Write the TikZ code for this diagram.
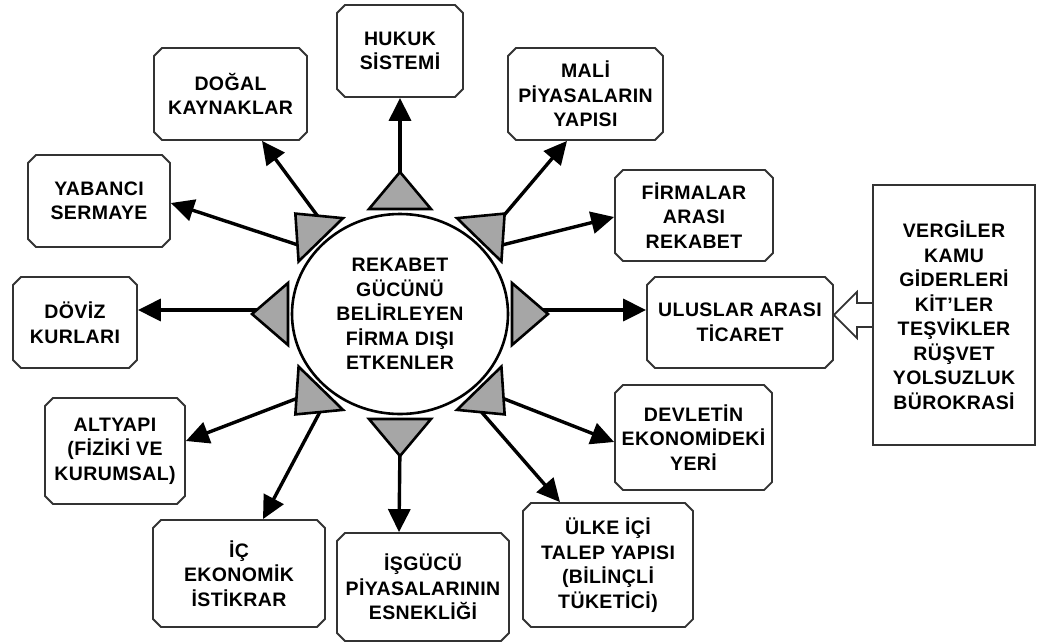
\documentclass[tikz,border=0pt]{standalone}
\usepackage{fontspec}
\setmainfont{Liberation Sans}[LetterSpace=2]
\usetikzlibrary{shapes.misc,shapes.geometric,arrows.meta,calc}
\newcommand\boxfont{\fontsize{19.5}{24.5}\selectfont\bfseries}
\begin{document}
\begin{tikzpicture}[x=1pt,y=-1pt,
  box/.style={chamfered rectangle, chamfered rectangle xsep=4pt, chamfered rectangle ysep=4pt,
    draw=black!80, line width=1.8pt, fill=white, inner sep=1pt, align=center, font=\boxfont},
  plainbox/.style={rectangle, draw=black!80, line width=2.2pt, fill=white, inner sep=1pt, align=center, font=\boxfont},
  core/.style={ellipse, draw=black, line width=2.6pt, fill=white, inner sep=0pt, align=center, font=\boxfont},
  arr/.style={line width=3.4pt, -{Triangle[length=23pt,width=22pt]}},
  tri/.style={draw=black, line width=2.6pt, fill=black!35, line join=miter},
  hollow/.style={draw=black!80, line width=1.8pt, fill=white, line join=miter}]
\useasboundingbox (0,0) rectangle (1048,643);
\fill[white] (0,0) rectangle (1048,643);

% boxes
\node[box, minimum width=126pt, minimum height=92pt] (hukuk) at (400,51) {HUKUK\\SİSTEMİ};
\node[box, minimum width=153pt, minimum height=92pt] (dogal) at (230.5,94) {DOĞAL\\KAYNAKLAR};
\node[box, minimum width=155pt, minimum height=92pt] (mali) at (585.5,94) {MALİ\\PİYASALARIN\\YAPISI};
\node[box, minimum width=142pt, minimum height=92pt] (yabanci) at (99,201) {YABANCI\\SERMAYE};
\node[box, minimum width=158pt, minimum height=91pt] (firmalar) at (694,215.5) {FİRMALAR\\ARASI\\REKABET};
\node[box, minimum width=124pt, minimum height=91pt] (doviz) at (75,322.5) {DÖVİZ\\KURLARI};
\node[box, minimum width=186pt, minimum height=91pt] (uluslar) at (740,322.5) {ULUSLAR ARASI\\TİCARET};
\node[box, minimum width=140pt, minimum height=106pt] (altyapi) at (115,451) {ALTYAPI\\(FİZİKİ VE\\KURUMSAL)};
\node[box, minimum width=157pt, minimum height=105pt] (devlet) at (693.5,437.5) {DEVLETİN\\EKONOMİDEKİ\\YERİ};
\node[box, minimum width=172pt, minimum height=107pt] (ic) at (239,573.5) {İÇ\\EKONOMİK\\İSTİKRAR};
\node[box, minimum width=172pt, minimum height=108pt] (isgucu) at (423,587) {İŞGÜCÜ\\PİYASALARININ\\ESNEKLİĞİ};
\node[box, minimum width=170pt, minimum height=124pt] (ulke) at (608,565) {ÜLKE İÇİ\\TALEP YAPISI\\(BİLİNÇLİ\\TÜKETİCİ)};
\node[plainbox, minimum width=162pt, minimum height=260pt] (big) at (954,315)
  {VERGİLER\\KAMU\\GİDERLERİ\\KİT’LER\\TEŞVİKLER\\RÜŞVET\\YOLSUZLUK\\BÜROKRASİ};

% hollow arrow from the right box
\draw[hollow] ($(big.west)+(0,-12)$) -- ++(-15,0) -- ++(0,-11) -- (uluslar.east |- big.west)
  -- ($(big.west)+(-15,23)$) -- ++(0,-11) -- ($(big.west)+(0,12)$);

% centre
\node[core, minimum width=216pt, minimum height=200pt] (center) at (400,314)
  {REKABET\\GÜCÜNÜ\\BELİRLEYEN\\FİRMA DIŞI\\ETKENLER};

% start points of the connectors (inside the triangles)
\coordinate (sHuk) at (400,185);
\coordinate (sDog) at (322,222);
\coordinate (sYab) at (298,245);
\coordinate (sMal) at (500,220);
\coordinate (sFir) at (502,245);
\coordinate (sDov) at (262,310);
\coordinate (sUlu) at (538,310);
\coordinate (sAlt) at (298,398);
\coordinate (sIc) at (322,408);
\coordinate (sIsg) at (400,443);
\coordinate (sDev) at (502,398);
\coordinate (sUlk) at (478,408);

% connectors
\draw[arr] (sHuk) -- (hukuk.south);
\draw[arr] (sDog) -- ($(dogal.south)+(31.5,0)$);
\draw[arr] (sYab) -- ($(yabanci.east)+(0,2)$);
\draw[arr] (sMal) -- ($(mali.south)+(-18.5,0)$);
\draw[arr] (sFir) -- ($(firmalar.west)+(0,1.5)$);
\draw[arr] (sDov) -- ($(doviz.east)+(0,-12.5)$);
\draw[arr] (sUlu) -- ($(uluslar.west)+(0,-12.5)$);
\draw[arr] (sAlt) -- ($(altyapi.east)+(0,-10)$);
\draw[arr] (sIc) -- ($(ic.north)+(24,0)$);
\draw[arr] (sIsg) -- ($(isgucu.north)+(-24,0)$);
\draw[arr] (sDev) -- ($(devlet.west)+(0,4.5)$);
\draw[arr] (sUlk) -- ($(ulke.north)+(-48,0)$);

% triangles around the centre
\foreach \a in {0,45,...,315} {
  \coordinate (m) at ({400+112*cos(\a)},{314-105*sin(\a)});
  \coordinate (p) at ({400+148*cos(\a)},{314-142*sin(\a)});
  \draw[tri] ($(m)!31pt!90:(p)$) -- (p) -- ($(m)!31pt!-90:(p)$) -- cycle;
}
\end{tikzpicture}
\end{document}
